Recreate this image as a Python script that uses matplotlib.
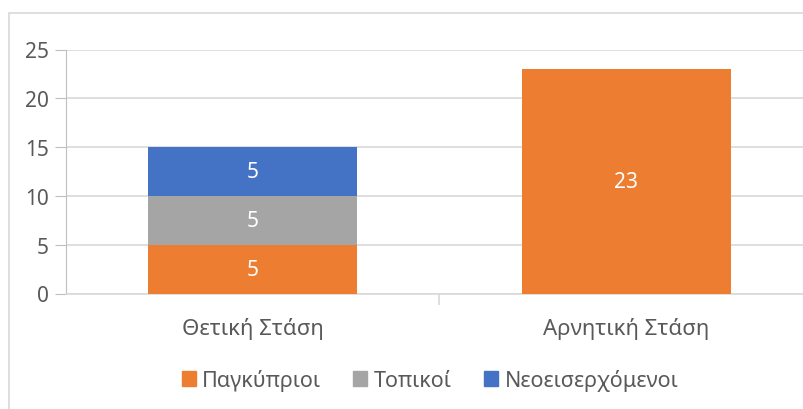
import matplotlib
matplotlib.use('Agg')
import matplotlib.pyplot as plt
from matplotlib.patches import Rectangle
import numpy as np

plt.rcParams['font.family'] = ['Noto Sans', 'DejaVu Sans']

categories = ['Θετική Στάση', 'Αρνητική Στάση']
series_names = ['Παγκύπριοι', 'Τοπικοί', 'Νεοεισερχόμενοι']
series_vals = [
    [5, 23],
    [5, 0],
    [5, 0],
]
colors = ['#ED7D31', '#A5A5A5', '#4472C4']
TXT = '#595959'

W, H = 804, 410
fig = plt.figure(figsize=(W / 100, H / 100), dpi=100)
ax = fig.add_axes([65.5 / W, 1 - 294.5 / H, 748 / W, 244 / H])

x = np.arange(len(categories))
bottom = np.zeros(len(categories))
for name, vals, c in zip(series_names, series_vals, colors):
    vals = np.array(vals, dtype=float)
    bars = ax.bar(x, vals, 0.56, bottom=bottom, color=c, label=name, zorder=3)
    for b, v, b0 in zip(bars, vals, bottom):
        if v > 0:
            ax.text(b.get_x() + b.get_width() / 2, b0 + v / 2, f'{v:.0f}',
                    ha='center', va='center', color='white', fontsize=15, zorder=4)
    bottom += vals

ax.set_xlim(-0.5, 1.5)
ax.set_ylim(0, 25)
ax.set_yticks(range(0, 26, 5))
ax.yaxis.grid(True, color='#D9D9D9', linewidth=1.2, zorder=0)
ax.set_axisbelow(True)
for s in ['top', 'right']:
    ax.spines[s].set_visible(False)
ax.spines['left'].set_color('#BFBFBF')
ax.spines['bottom'].set_color('#D9D9D9')
ax.spines['bottom'].set_linewidth(1.2)
ax.tick_params(axis='y', colors='#BFBFBF', labelcolor=TXT, labelsize=15, length=8, pad=4)

# category labels between-tick layout
ax.set_xticks([0.5])
ax.set_xticklabels([''])
ax.tick_params(axis='x', colors='#D9D9D9', length=8, width=1.2)
for xi, cat in zip(x, categories):
    ax.text(xi, -0.14, cat, transform=ax.get_xaxis_transform(), ha='center', va='center',
            fontsize=16, color=TXT)

handles = [Rectangle((0, 0), 1, 1, color=c) for c in colors]
fig.legend(handles, series_names, loc='center', bbox_to_anchor=(430 / W, 1 - 381 / H),
           ncol=3, frameon=False, fontsize=15.5, labelcolor=TXT,
           handlelength=0.65, handleheight=0.65, handletextpad=0.3, columnspacing=1.5)

# chart border (cut off at right and bottom)
fig.add_artist(Rectangle((9 / W, -0.1), 1.2, (H - 14) / H + 0.1, transform=fig.transFigure,
                         fill=False, edgecolor='#D9D9D9', linewidth=1.2))

fig.savefig('out.png', dpi=100)
